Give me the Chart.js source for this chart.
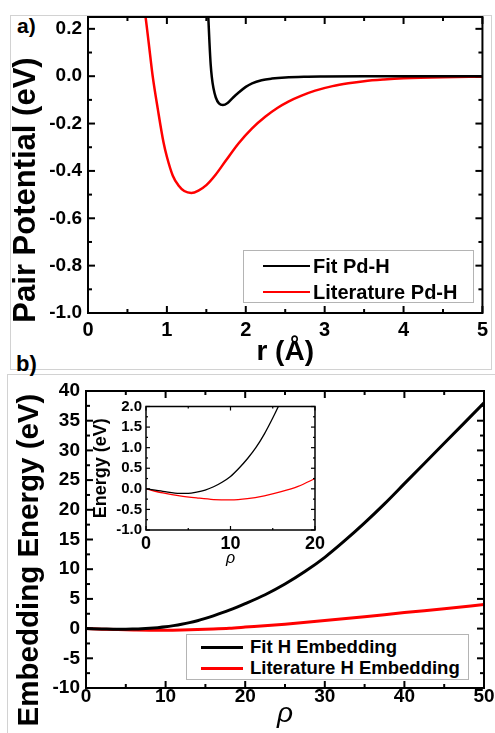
<!DOCTYPE html>
<html>
<head>
<meta charset="utf-8">
<script src="https://cdn.jsdelivr.net/npm/chart.js@4.4.1/dist/chart.umd.min.js"></script>
<style>
  html, body { margin: 0; padding: 0; background: #fff; }
  #page { position: relative; width: 495px; height: 733px; overflow: hidden; font-family: "Liberation Sans", Arial, sans-serif; color: #000; }
  canvas { position: absolute; }
  .box { position: absolute; border: 1px solid #d2d2d2; box-sizing: border-box; }
  .tag { position: absolute; font-weight: bold; line-height: 1; }
  .ytitle { position: absolute; font-weight: bold; line-height: 1; white-space: nowrap; transform: translate(-50%, -50%) rotate(-90deg); }
  .legend { position: absolute; border: 1px solid #b4b4b4; box-sizing: border-box; background: #fff; }
  .legend .row { position: absolute; left: 0; display: flex; align-items: center; font-weight: bold; white-space: nowrap; }
  .legend .swatch { display: inline-block; }
</style>
</head>
<body>
<div id="page">
  <div class="box" style="left:10px;top:15px;width:482px;height:355px"></div>
  <div class="box" style="left:7px;top:374px;width:500px;height:400px"></div>
  <div class="tag" style="left:17px;top:14.5px;font-size:21px">a)</div>
  <div class="tag" style="left:16px;top:352.5px;font-size:22px">b)</div>
  <canvas id="potChart" width="495" height="372" style="left:0;top:0"></canvas>
  <canvas id="embChart" width="495" height="360" style="left:0;top:373px"></canvas>
  <canvas id="insetChart" width="250" height="180" style="left:80px;top:395px"></canvas>
  <div class="ytitle" style="left:24px;top:190px;font-size:31px">Pair Potential (eV)</div>
  <div class="ytitle" style="left:27.5px;top:560px;font-size:29.5px">Embedding Energy (eV)</div>
  <div id="legendA" class="legend" style="left:243px;top:250px;width:231px;height:53px"></div>
  <div id="legendB" class="legend" style="left:186px;top:634px;width:283px;height:46px"></div>
</div>
<script>
(function () {
  'use strict';

  // a) pair potential, r in angstrom, V in eV
  var fitR = [1.525, 1.54, 1.555, 1.57, 1.59, 1.62, 1.66, 1.71, 1.77, 1.84, 1.91, 2.0, 2.08, 2.2, 2.33, 2.5, 2.75, 3.0, 3.5, 4.0, 5.0];
  var fitV = [0.25, 0.14, 0.05, -0.005, -0.05, -0.09, -0.115, -0.122, -0.113, -0.09, -0.069, -0.045, -0.03, -0.017, -0.01, -0.005, -0.002, -0.001, 0, 0, 0];
  var litR = [0.73, 0.77, 0.82, 0.885, 0.957, 1.0, 1.075, 1.15, 1.22, 1.31, 1.4, 1.5, 1.62, 1.75, 1.91, 2.08, 2.25, 2.4, 2.54, 2.7, 2.88, 3.1, 3.3, 3.5, 3.75, 4.0, 4.5, 5.0];
  var litV = [0.25, 0.14, 0.0, -0.139, -0.279, -0.34, -0.42, -0.463, -0.485, -0.493, -0.483, -0.46, -0.415, -0.355, -0.283, -0.22, -0.17, -0.134, -0.107, -0.083, -0.061, -0.042, -0.030, -0.021, -0.014, -0.009, -0.004, -0.002];

  // b) embedding energy vs rho
  var rhoFit = [0, 2, 4, 5, 6, 7, 8, 9, 10, 11, 12, 13, 14, 15, 16, 18, 20, 22.5, 25, 27.5, 30, 32.5, 35, 37.5, 40, 42.5, 45, 47.5, 50];
  var embFit = [0, -0.06, -0.11, -0.11, -0.08, -0.03, 0.05, 0.16, 0.3, 0.5, 0.73, 1.0, 1.33, 1.72, 2.15, 3.1, 4.2, 5.7, 7.5, 9.6, 12.0, 14.8, 17.8, 21.0, 24.4, 27.8, 31.2, 34.6, 38.0];
  var rhoLit = [0, 2, 4, 6, 8, 10, 12, 14, 16, 18, 20, 25, 30, 35, 40, 45, 50];
  var embLit = [0, -0.1, -0.17, -0.22, -0.26, -0.27, -0.24, -0.17, -0.07, 0.06, 0.25, 0.75, 1.35, 2.0, 2.7, 3.35, 4.05];

  // tick labels
  var potTicksX = [0, 1, 2, 3, 4, 5];
  var potTicksY = [-1.0, -0.8, -0.6, -0.4, -0.2, 0.0, 0.2];
  var embTicksX = [0, 10, 20, 30, 40, 50];
  var embTicksY = [-10, -5, 0, 5, 10, 15, 20, 25, 30, 35, 40];
  var insetTicksX = [0, 10, 20];
  var insetTicksY = [-1.0, -0.5, 0.0, 0.5, 1.0, 1.5, 2.0];

  var FONT = 'Liberation Sans';
  var RED = '#ff0000';
  var BLACK = '#000000';

  function pts(xs, ys) {
    return xs.map(function (x, i) { return { x: x, y: ys[i] }; });
  }

  function fixed1(v) {
    return Math.abs(v) < 1e-9 ? '0.0' : v.toFixed(1);
  }

  // minor tick values inside [min, max]
  function steps(lo, hi, step) {
    var out = [];
    var n = Math.floor((hi - lo) / step + 1e-6);
    for (var i = 0; i <= n; i++) out.push(lo + i * step);
    return out;
  }

  function isMajor(list, v) {
    return list.some(function (t) { return Math.abs(t - v) < 1e-6; });
  }

  // frame on four sides with inward ticks, ticks drawn as filled rects
  function framePlugin(f) {
    return {
      id: 'frame',
      beforeDraw: function (chart) {
        if (!f.fill) return;
        var a = chart.chartArea;
        chart.ctx.save();
        chart.ctx.fillStyle = f.fill;
        chart.ctx.fillRect(a.left, a.top, a.right - a.left, a.bottom - a.top);
        chart.ctx.restore();
      },
      afterDraw: function (chart) {
        var ctx = chart.ctx, a = chart.chartArea;
        var xs = chart.scales.x, ys = chart.scales.y;
        var w = f.tickWidth;
        ctx.save();
        ctx.fillStyle = '#000';
        steps(f.xMin, f.xMax, f.xMinor).forEach(function (v) {
          var p = xs.getPixelForValue(v);
          var len = isMajor(f.xMajor, v) ? f.major : f.minor;
          ctx.fillRect(p - w / 2, a.bottom - len, w, len);
          ctx.fillRect(p - w / 2, a.top, w, len);
        });
        steps(f.yMin, f.yMax, f.yMinor).forEach(function (v) {
          var p = ys.getPixelForValue(v);
          var len = isMajor(f.yMajor, v) ? f.major : f.minor;
          ctx.fillRect(a.left, p - w / 2, len, w);
          ctx.fillRect(a.right - len, p - w / 2, len, w);
        });
        ctx.strokeStyle = '#000';
        ctx.lineWidth = f.width;
        ctx.strokeRect(a.left, a.top, a.right - a.left, a.bottom - a.top);
        ctx.restore();
      }
    };
  }

  function axis(c) {
    return {
      type: 'linear',
      min: c.min,
      max: c.max,
      grid: { display: false, drawTicks: false },
      border: { display: false },
      afterBuildTicks: function (s) { s.ticks = c.ticks.map(function (v) { return { value: v }; }); },
      afterFit: function (s) {
        if (c.width != null) s.width = c.width;
        if (c.height != null) s.height = c.height;
      },
      ticks: {
        autoSkip: false, maxRotation: 0, minRotation: 0,
        color: '#000', padding: c.pad,
        font: { family: FONT, weight: 700, size: c.size, lineHeight: 1 },
        callback: c.fmt
      },
      title: c.title ? {
        display: true, text: c.title, color: '#000',
        font: c.titleFont, padding: c.titlePad
      } : { display: false }
    };
  }

  function line(label, xs, ys, color, width) {
    return {
      label: label,
      data: pts(xs, ys),
      borderColor: color,
      backgroundColor: color,
      borderWidth: width,
      pointRadius: 0,
      cubicInterpolationMode: 'monotone',
      fill: false
    };
  }

  function baseOptions(padding, scales) {
    return {
      responsive: false,
      animation: false,
      layout: { padding: padding },
      plugins: { legend: { display: false }, tooltip: { enabled: false } },
      scales: scales
    };
  }

  var potChart = new Chart(document.getElementById('potChart'), {
    type: 'line',
    plugins: [framePlugin({ tickWidth: 2, width: 2, major: 7, minor: 4,
      xMin: 0, xMax: 5, xMinor: 0.5, xMajor: potTicksX,
      yMin: -1.0, yMax: 0.25, yMinor: 0.1, yMajor: potTicksY })],
    data: {
      datasets: [
        line('Fit Pd-H', fitR, fitV, BLACK, 2.5),
        line('Literature Pd-H', litR, litV, RED, 2.5)
      ]
    },
    options: baseOptions(
      { left: 0, top: 17, right: 10, bottom: 0 },
      {
        x: axis({ min: 0, max: 5, ticks: potTicksX, height: 59, pad: 7, size: 20,
          fmt: function (v) { return String(v); },
          title: 'r (Å)', titleFont: { family: FONT, weight: 'bold', size: 28 }, titlePad: { top: 0, bottom: 3 } }),
        y: axis({ min: -1.0, max: 0.25, ticks: potTicksY, width: 88, pad: 6, size: 19, fmt: fixed1 })
      })
  });

  var embChart = new Chart(document.getElementById('embChart'), {
    type: 'line',
    plugins: [framePlugin({ tickWidth: 2, width: 2, major: 7, minor: 4,
      xMin: 0, xMax: 50, xMinor: 5, xMajor: embTicksX,
      yMin: -10, yMax: 40, yMinor: 2.5, yMajor: embTicksY })],
    data: {
      datasets: [
        line('Fit H Embedding', rhoFit, embFit, BLACK, 3),
        line('Literature H Embedding', rhoLit, embLit, RED, 3)
      ]
    },
    options: baseOptions(
      { left: 0, top: 18, right: 11, bottom: 0 },
      {
        x: axis({ min: 0, max: 50, ticks: embTicksX, height: 45, pad: -1, size: 19,
          fmt: function (v) { return String(v); },
          title: 'ρ', titleFont: { family: FONT, style: 'italic', size: 28 }, titlePad: { top: 0, bottom: 2 } }),
        y: axis({ min: -10, max: 40, ticks: embTicksY, width: 86, pad: 6, size: 19,
          fmt: function (v) { return String(v); } })
      })
  });

  new Chart(document.getElementById('insetChart'), {
    type: 'line',
    plugins: [framePlugin({ fill: '#fff', tickWidth: 1.2, width: 1.5, major: 4, minor: 2,
      xMin: 0, xMax: 20, xMinor: 5, xMajor: insetTicksX,
      yMin: -1.0, yMax: 2.0, yMinor: 0.25, yMajor: insetTicksY })],
    data: {
      datasets: [
        line('Fit H Embedding', rhoFit, embFit, BLACK, 1.3),
        line('Literature H Embedding', rhoLit, embLit, RED, 1.3)
      ]
    },
    options: baseOptions(
      { left: 0, top: 10, right: 14, bottom: 0 },
      {
        x: axis({ min: 0, max: 20, ticks: insetTicksX, height: 45, pad: 5, size: 18,
          fmt: function (v) { return String(v); },
          title: 'ρ', titleFont: { family: FONT, style: 'italic', size: 16 }, titlePad: { top: 0, bottom: 7 } }),
        y: axis({ min: -1.0, max: 2.0, ticks: insetTicksY, width: 66, pad: 4, size: 15, fmt: fixed1,
          title: 'Energy (eV)', titleFont: { family: FONT, weight: 'bold', size: 18 }, titlePad: { top: 10, bottom: 0 } })
      })
  });

  // html legends built from the dataset labels and colours
  function buildLegend(el, chart, cfg) {
    chart.data.datasets.forEach(function (ds, i) {
      var row = document.createElement('div');
      row.className = 'row';
      row.style.top = (cfg.centers[i] - 12) + 'px';
      row.style.height = '24px';
      row.style.paddingLeft = cfg.lineLeft + 'px';
      row.style.fontSize = cfg.fontSize + 'px';
      var sw = document.createElement('span');
      sw.className = 'swatch';
      sw.style.width = cfg.lineWidth + 'px';
      sw.style.height = cfg.thick + 'px';
      sw.style.background = ds.borderColor;
      sw.style.marginRight = cfg.gap + 'px';
      var tx = document.createElement('span');
      tx.textContent = ds.label;
      row.appendChild(sw);
      row.appendChild(tx);
      el.appendChild(row);
    });
  }

  buildLegend(document.getElementById('legendA'), potChart,
    { centers: [15, 41], lineLeft: 19, lineWidth: 47, thick: 2.5, gap: 3, fontSize: 20 });
  buildLegend(document.getElementById('legendB'), embChart,
    { centers: [12, 33], lineLeft: 14, lineWidth: 42, thick: 3, gap: 7, fontSize: 18.5 });
})();
</script>
</body>
</html>
